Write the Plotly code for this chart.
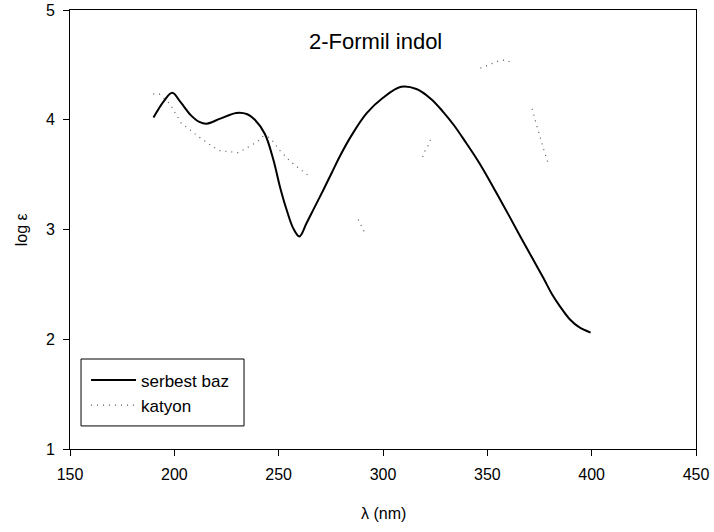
import plotly.graph_objects as go

# serbest baz (free base) - solid curve
base_wl = [190, 195, 199, 203, 208, 212, 215.5, 222, 229.7, 235, 238.6, 243.4, 247.4, 250.6,
           253.8, 257, 259.9, 263.4, 267, 271.4, 275.4, 279.4, 285, 292.2, 300, 308.7, 316,
           323, 328.6, 334, 339.8, 346, 352.7, 360, 366, 370.4, 376.8, 381, 384.8, 389.6,
           394, 399.5]
base_log = [4.02, 4.17, 4.245, 4.16, 4.04, 3.98, 3.964, 4.01, 4.062, 4.05, 4.0, 3.87, 3.64, 3.39,
            3.18, 3.01, 2.936, 3.06, 3.195, 3.36, 3.515, 3.67, 3.86, 4.06, 4.2, 4.30, 4.28,
            4.19, 4.077, 3.95, 3.79, 3.61, 3.39, 3.14, 2.93, 2.78, 2.56, 2.41, 2.30, 2.18,
            2.11, 2.06]

# katyon (cation) - dotted curve, only the fragments visible in the picture (None = gap)
cat_wl = [189.9, 192.8, 197.9, 199.7, 201.6, 203.3, 212.0, 221.2, 230.6, 233.5, 236.6, 239.8,
          242.6, 245.5, 247.9, 250.0, 255.6, 258.6, 261.8, 265.0, None,
          288.1, 289.7, 291.3, None,
          319.0, 320.2, 322.1, 323.1, None,
          346.7, 356.0, 359.0, 362.1, None,
          371.5, 372.3, 373.1, 376.6, 379.5]
cat_log = [4.235, 4.235, 4.144, 4.086, 4.026, 3.97, 3.84, 3.72, 3.70, 3.73, 3.76, 3.80,
           3.85, 3.84, 3.79, 3.73, 3.62, 3.575, 3.53, 3.48, None,
           3.09, 3.03, 2.97, None,
           3.66, 3.72, 3.78, 3.84, None,
           4.47, 4.54, 4.545, 4.515, None,
           4.10, 4.04, 3.985, 3.755, 3.58]

x_ticks = [150, 200, 250, 300, 350, 400, 450]
y_ticks = [1, 2, 3, 4, 5]

fig = go.Figure()
fig.add_trace(go.Scatter(x=base_wl, y=base_log, mode="lines", name="serbest baz",
                         line=dict(color="black", width=2, shape="spline", smoothing=1.0)))
fig.add_trace(go.Scatter(x=cat_wl, y=cat_log, mode="lines", name="katyon", connectgaps=False,
                         line=dict(color="#555555", width=1.2, dash="1px,5px")))

# title sits inside the plot area
fig.add_annotation(x=296.5, y=4.71, xref="x", yref="y", text="2-Formil indol", showarrow=False,
                   font=dict(size=22, color="black"))

# axis titles as annotations so they land where the reference has them
fig.add_annotation(x=0.5, y=-0.146, xref="paper", yref="paper", text="λ (nm)", showarrow=False,
                   yanchor="middle", font=dict(size=16, color="black"))
fig.add_annotation(x=-0.077, y=0.5, xref="paper", yref="paper", text="log ε", showarrow=False,
                   textangle=-90, xanchor="center", font=dict(size=16, color="black"))

# legend frame drawn by hand, it is wider than plotly's own box
fig.add_shape(type="rect", xref="paper", yref="paper", x0=0.0176, x1=0.278, y0=0.0525, y1=0.205,
              line=dict(color="black", width=1), fillcolor="rgba(0,0,0,0)")

axis_style = dict(showline=True, linecolor="black", linewidth=1, mirror=True, showgrid=False,
                  zeroline=False, ticks="outside", ticklen=6, tickcolor="black",
                  ticklabelstandoff=5, automargin=False,
                  tickfont=dict(size=16, color="black"))

fig.update_xaxes(range=[150, 450], tickvals=x_ticks, **axis_style)
fig.update_yaxes(range=[1, 5], tickvals=y_ticks, **axis_style)

fig.update_layout(
    width=714, height=532,
    margin=dict(l=70, r=18, t=10, b=83),
    plot_bgcolor="white", paper_bgcolor="white",
    font=dict(family="Arial, Liberation Sans, sans-serif", color="black"),
    legend=dict(x=0.0256, y=0.197, xanchor="left", yanchor="top", itemwidth=45,
                borderwidth=0, bgcolor="rgba(0,0,0,0)",
                font=dict(size=17, color="black"), tracegroupgap=0),
)

# drop the page's default body margin so the figure sits at the window's corner
fig.write_html("out.html", config={"displayModeBar": False},
               post_script="document.body.style.margin='0';")
